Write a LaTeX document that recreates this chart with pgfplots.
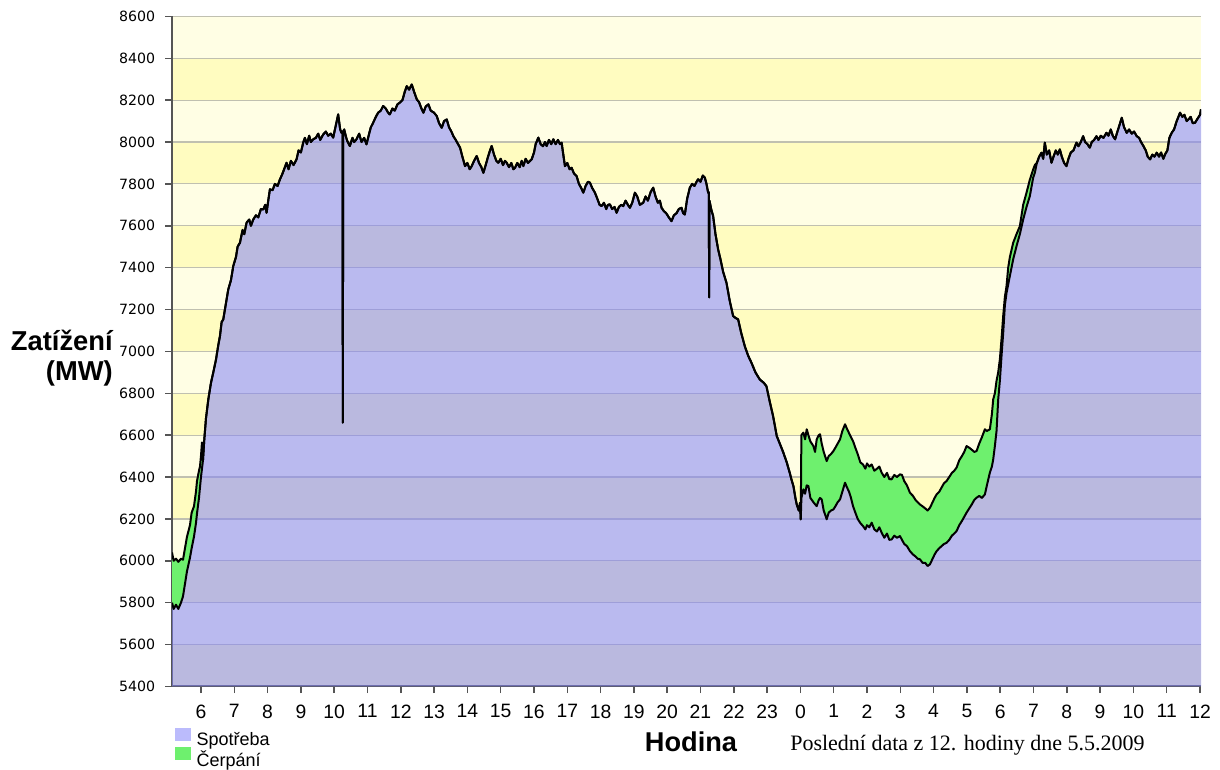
\documentclass[border=0pt]{standalone}
\usepackage{fontspec}
\setmainfont{Liberation Sans}
\newfontfamily\dejavu{DejaVu Sans}
\newfontfamily\seriff{Liberation Serif}
\usepackage{pgfplots}
\usepackage{pgfplotstable}
\pgfplotsset{compat=1.18}
\definecolor{ypale}{RGB}{255,254,228}
\definecolor{ydark}{RGB}{255,252,192}
\definecolor{spot}{RGB}{131,131,249}
\definecolor{cerp}{RGB}{110,240,110}
\definecolor{gridc}{RGB}{192,192,176}
\definecolor{axc}{RGB}{85,85,85}
\pgfplotsset{layers/mylayers/.define layer set={axis background,axis grid,pre main,main,axis ticks,axis lines,axis tick labels,axis descriptions,axis foreground}{}}

\pgfplotstableread{
h lo hi
5.13 5800 6040
5.18 5770 6000
5.25 5790 6010
5.32 5770 5995
5.40 5800 6010
5.46 5830 6005
5.52 5890 6060
5.58 5950 6115
5.67 6015 6170
5.72 6060 6230
5.79 6115 6260
5.85 6180 6330
5.88 6225 6380
5.94 6300 6430
5.97 6350 6450
6.00 6400 6500
6.03 6440 6565
6.06 6480 6480
6.10 6580 6580
6.15 6680 6680
6.22 6770 6770
6.30 6850 6850
6.37 6900 6900
6.45 6960 6960
6.52 7030 7030
6.57 7073 7073
6.62 7140 7140
6.67 7153 7153
6.75 7230 7230
6.82 7296 7296
6.90 7340 7340
6.97 7408 7408
7.05 7450 7450
7.10 7500 7500
7.17 7519 7519
7.25 7580 7580
7.30 7560 7560
7.37 7615 7615
7.45 7630 7630
7.50 7600 7600
7.57 7630 7630
7.65 7650 7650
7.72 7640 7640
7.80 7680 7680
7.87 7678 7678
7.93 7700 7700
7.97 7662 7662
8.02 7720 7720
8.07 7774 7774
8.15 7770 7770
8.22 7800 7800
8.30 7790 7790
8.37 7821 7821
8.45 7850 7850
8.52 7880 7880
8.57 7901 7901
8.63 7870 7870
8.70 7910 7910
8.78 7890 7890
8.87 7917 7917
8.93 7960 7960
9.00 7950 7950
9.07 7997 7997
9.12 8020 8020
9.18 7990 7990
9.25 8030 8030
9.30 8000 8000
9.37 8013 8013
9.45 8020 8020
9.52 8040 8040
9.58 8010 8010
9.67 8036 8036
9.75 8050 8050
9.82 8030 8030
9.90 8040 8040
9.97 8021 8021
10.05 8080 8080
10.12 8132 8132
10.18 8060 8060
10.22 8044 8044
10.25 8050 8050
10.26 6660 6660
10.27 8050 8050
10.30 8060 8060
10.38 8010 8010
10.47 7981 7981
10.55 8020 8020
10.60 8000 8000
10.67 8013 8013
10.75 8040 8040
10.82 8000 8000
10.90 8020 8020
10.97 7989 7989
11.05 8040 8040
11.10 8070 8070
11.17 8092 8092
11.25 8120 8120
11.32 8140 8140
11.40 8150 8150
11.47 8172 8172
11.55 8160 8160
11.62 8140 8140
11.67 8132 8132
11.75 8160 8160
11.82 8150 8150
11.90 8180 8180
11.97 8188 8188
12.05 8200 8200
12.12 8240 8240
12.18 8267 8267
12.25 8250 8250
12.33 8275 8275
12.40 8240 8240
12.48 8204 8204
12.55 8190 8190
12.62 8160 8160
12.68 8140 8140
12.75 8170 8170
12.83 8180 8180
12.90 8150 8150
13.00 8140 8140
13.08 8124 8124
13.15 8090 8090
13.23 8068 8068
13.30 8100 8100
13.38 8108 8108
13.45 8070 8070
13.52 8050 8050
13.58 8028 8028
13.65 8010 8010
13.72 7990 7990
13.78 7973 7973
13.85 7930 7930
13.93 7885 7885
14.00 7900 7900
14.07 7870 7870
14.13 7885 7885
14.20 7910 7910
14.28 7933 7933
14.35 7900 7900
14.42 7880 7880
14.48 7853 7853
14.55 7890 7890
14.62 7930 7930
14.68 7960 7960
14.73 7981 7981
14.80 7940 7940
14.87 7910 7910
14.93 7901 7901
15.00 7920 7920
15.07 7890 7890
15.13 7910 7910
15.18 7901 7901
15.25 7880 7880
15.32 7900 7900
15.38 7870 7870
15.43 7877 7877
15.50 7900 7900
15.57 7880 7880
15.63 7910 7910
15.68 7885 7885
15.75 7920 7920
15.82 7900 7900
15.88 7910 7910
15.93 7917 7917
16.00 7950 7950
16.05 7990 7990
16.13 8021 8021
16.20 7990 7990
16.27 7980 7980
16.33 8000 8000
16.38 7981 7981
16.45 8010 8010
16.52 7990 7990
16.58 8013 8013
16.65 7990 7990
16.72 8010 8010
16.78 7990 7990
16.83 7997 7997
16.88 7940 7940
16.93 7885 7885
17.00 7900 7900
17.07 7870 7870
17.13 7877 7877
17.20 7850 7850
17.28 7837 7837
17.35 7800 7800
17.42 7780 7780
17.48 7758 7758
17.55 7790 7790
17.62 7810 7810
17.68 7806 7806
17.75 7780 7780
17.83 7758 7758
17.90 7730 7730
17.97 7700 7700
18.03 7694 7694
18.10 7710 7710
18.17 7680 7680
18.22 7700 7700
18.28 7702 7702
18.35 7680 7680
18.42 7690 7690
18.48 7662 7662
18.55 7690 7690
18.62 7700 7700
18.68 7694 7694
18.75 7720 7720
18.82 7700 7700
18.88 7686 7686
18.95 7710 7710
19.03 7758 7758
19.10 7740 7740
19.18 7700 7700
19.28 7710 7710
19.35 7740 7740
19.42 7720 7720
19.50 7760 7760
19.58 7782 7782
19.65 7740 7740
19.72 7710 7710
19.78 7720 7720
19.83 7686 7686
19.90 7670 7670
19.97 7660 7660
20.05 7640 7640
20.13 7622 7622
20.20 7650 7650
20.28 7660 7660
20.35 7680 7680
20.43 7686 7686
20.48 7660 7660
20.53 7654 7654
20.60 7730 7730
20.68 7782 7782
20.75 7800 7800
20.82 7790 7790
20.88 7810 7810
20.93 7822 7822
21.00 7810 7810
21.07 7840 7840
21.13 7830 7830
21.18 7800 7800
21.23 7758 7758
21.25 7760 7760
21.26 7258 7258
21.27 7720 7720
21.32 7680 7680
21.38 7646 7646
21.45 7560 7560
21.53 7487 7487
21.60 7440 7440
21.68 7380 7380
21.78 7328 7328
21.88 7240 7240
21.98 7169 7169
22.05 7160 7160
22.13 7153 7153
22.22 7090 7090
22.33 7025 7025
22.43 6980 6980
22.53 6946 6946
22.65 6900 6900
22.78 6866 6866
22.90 6850 6850
22.98 6834 6834
23.08 6760 6760
23.18 6691 6691
23.29 6596 6596
23.38 6560 6560
23.48 6520 6520
23.59 6470 6470
23.68 6420 6420
23.73 6389 6389
23.79 6357 6357
23.85 6300 6300
23.89 6269 6269
23.95 6240 6240
23.99 6277 6277
24.01 6198 6198
24.03 6300 6600
24.09 6341 6612
24.14 6320 6580
24.19 6360 6628
24.24 6357 6600
24.30 6300 6570
24.39 6280 6548
24.44 6270 6520
24.49 6261 6580
24.55 6290 6600
24.59 6300 6604
24.64 6293 6560
24.70 6240 6520
24.79 6198 6476
24.85 6230 6500
24.92 6240 6510
24.99 6245 6524
25.05 6260 6540
25.12 6280 6560
25.19 6293 6580
25.26 6330 6620
25.34 6373 6652
25.40 6350 6630
25.46 6330 6610
25.52 6300 6590
25.58 6261 6572
25.65 6230 6540
25.72 6200 6510
25.80 6180 6470
25.88 6166 6460
25.95 6150 6440
26.00 6170 6465
26.07 6160 6450
26.14 6182 6460
26.22 6150 6430
26.30 6140 6440
26.37 6160 6450
26.44 6134 6421
26.52 6110 6400
26.60 6130 6420
26.67 6100 6390
26.74 6102 6389
26.82 6120 6410
26.90 6110 6400
26.99 6118 6413
27.05 6100 6410
27.12 6080 6380
27.20 6070 6360
27.29 6046 6325
27.38 6030 6310
27.46 6020 6290
27.52 6010 6280
27.59 6007 6269
27.67 5990 6260
27.75 5990 6250
27.82 5975 6240
27.89 5983 6253
27.97 6010 6280
28.03 6030 6300
28.09 6046 6317
28.17 6060 6330
28.24 6070 6350
28.31 6080 6370
28.39 6086 6381
28.47 6100 6400
28.55 6120 6420
28.62 6130 6430
28.69 6142 6445
28.77 6170 6480
28.85 6190 6500
28.92 6210 6520
28.99 6230 6548
29.07 6250 6540
29.15 6270 6530
29.22 6290 6520
29.29 6301 6524
29.37 6310 6560
29.45 6300 6590
29.54 6317 6628
29.60 6360 6620
29.69 6421 6628
29.75 6450 6700
29.79 6484 6771
29.84 6548 6800
29.89 6620 6860
29.94 6771 6900
29.99 6860 6962
30.04 6980 7060
30.09 7089 7169
30.14 7220 7260
30.19 7280 7312
30.24 7320 7400
30.29 7360 7450
30.39 7440 7519
30.49 7503 7560
30.59 7560 7598
30.69 7630 7700
30.79 7690 7758
30.89 7742 7820
30.99 7830 7869
31.04 7853 7890
31.10 7900 7900
31.17 7930 7930
31.24 7949 7949
31.29 7920 7920
31.34 7997 7997
31.40 7940 7940
31.47 7960 7960
31.54 7901 7901
31.60 7930 7930
31.67 7960 7960
31.73 7940 7940
31.79 7965 7965
31.85 7930 7930
31.92 7900 7900
31.99 7885 7885
32.05 7920 7920
32.12 7950 7950
32.20 7960 7960
32.29 7997 7997
32.35 7980 7980
32.42 8000 8000
32.49 8028 8028
32.55 8000 8000
32.62 7990 7990
32.69 7973 7973
32.75 8000 8000
32.82 8010 8010
32.89 8028 8028
32.95 8010 8010
33.02 8030 8030
33.10 8020 8020
33.19 8044 8044
33.25 8030 8030
33.32 8060 8060
33.38 8030 8030
33.45 8013 8013
33.52 8050 8050
33.58 8080 8080
33.65 8116 8116
33.72 8070 8070
33.80 8044 8044
33.87 8060 8060
33.95 8040 8040
34.02 8050 8050
34.10 8028 8028
34.17 8020 8020
34.23 8000 8000
34.30 7981 7981
34.37 7960 7960
34.43 7930 7930
34.50 7917 7917
34.57 7940 7940
34.63 7930 7930
34.70 7949 7949
34.77 7930 7930
34.83 7950 7950
34.90 7920 7920
34.95 7941 7941
35.02 7960 7960
35.08 8020 8020
35.15 8044 8044
35.22 8060 8060
35.30 8100 8100
35.40 8140 8140
35.47 8120 8120
35.53 8130 8130
35.60 8100 8100
35.65 8108 8108
35.72 8120 8120
35.78 8090 8090
35.85 8092 8092
35.92 8110 8110
36.00 8130 8130
36.03 8156 8156
}\loaddata

\pgfplotstableread{
y0 y1
5400 5600
5800 6000
6200 6400
6600 6800
7000 7200
7400 7600
7800 8000
8200 8400
}\bands

\begin{document}
\begin{tikzpicture}
\begin{axis}[
  set layers=mylayers,
  at={(129pt,61.95pt)}, anchor=south west,
  scale only axis, width=771.75pt, height=502.5pt,
  xmin=5.13, xmax=36.03, ymin=5400, ymax=8600,
  axis x line*=bottom, axis y line*=left,
  axis line style={axc, line width=1.5pt, -},
  ytick={5400,5600,...,8600},
  xtick={6,...,36},
  xticklabels={6,7,8,9,10,11,12,13,14,15,16,17,18,19,20,21,22,23,0,1,2,3,4,5,6,7,8,9,10,11,12},
  tick align=outside, major tick length=5pt,
  tick style={axc, line width=1.1pt},
  ymajorgrids, major grid style={gridc, line width=0.9pt},
  scaled y ticks=false,
  yticklabel style={font=\dejavu\fontsize{10.6}{12}\selectfont, /pgf/number format/1000 sep={}, /pgf/number format/assume math mode=true, anchor=east, inner sep=0pt},
  yticklabel shift=7.5pt,
  xticklabel style={font=\fontsize{14.5}{16}\selectfont, anchor=north, inner sep=0pt},
  xticklabel shift=8.5pt,
  legend style={at={(axis description cs:0,0)}, anchor=north west, xshift=2.25pt, yshift=-31pt,
    draw=none, fill=none, font=\fontsize{13.5}{15}\selectfont, row sep=-0.5pt, column sep=4pt,
    inner sep=0pt, nodes={inner sep=0pt}, cells={anchor=west}},
  legend image code/.code={\fill[#1] (0pt,-0.2pt) rectangle (12pt,9.2pt);},
]
\addplot[on layer=axis background, forget plot, draw=none, fill=ypale]
  coordinates {(5.13,5400) (36.03,5400) (36.03,8600) (5.13,8600)} -- cycle;
\pgfplotsinvokeforeach{0,...,7}{%
  \pgfplotstablegetelem{#1}{y0}\of\bands \let\ya\pgfplotsretval
  \pgfplotstablegetelem{#1}{y1}\of\bands \let\yb\pgfplotsretval
  \edef\temp{\noexpand\addplot[on layer=axis background, forget plot, draw=none, fill=ydark]
    coordinates {(5.13,\ya) (36.03,\ya) (36.03,\yb) (5.13,\yb)} -- cycle;}
  \temp
}
\addplot[draw=none, fill=spot, fill opacity=0.55, stack plots=y] table[x=h,y=lo]{\loaddata} \closedcycle;
\addlegendentry{Spotřeba}
\addplot[draw=none, fill=cerp, stack plots=y] table[x=h,y expr=\thisrow{hi}-\thisrow{lo}]{\loaddata} \closedcycle;
\addlegendentry{Čerpání}
\addplot[black, line width=1.5pt, line join=round, forget plot] table[x=h,y=hi]{\loaddata};
\addplot[black, line width=1.5pt, line join=round, forget plot] table[x=h,y=lo]{\loaddata};
\end{axis}
\node[anchor=base east, inner sep=0pt, font=\bfseries\fontsize{20.5}{22}\selectfont] at (84.75pt,314.25pt) {Zatížení};
\node[anchor=base east, inner sep=0pt, font=\bfseries\fontsize{20.5}{22}\selectfont] at (84.75pt,291.75pt) {(MW)};
\node[anchor=base, inner sep=0pt, font=\bfseries\fontsize{20.4}{22}\selectfont] at (518.25pt,13.5pt) {Hodina};
\node[anchor=base west, inner sep=0pt, font=\seriff\fontsize{16.5}{18}\selectfont] at (592.5pt,14.25pt) {Poslední data z 12. hodiny dne 5.5.2009};
\pgfresetboundingbox
\path (0pt,0pt) rectangle (915pt,576.75pt);
\end{tikzpicture}
\end{document}
